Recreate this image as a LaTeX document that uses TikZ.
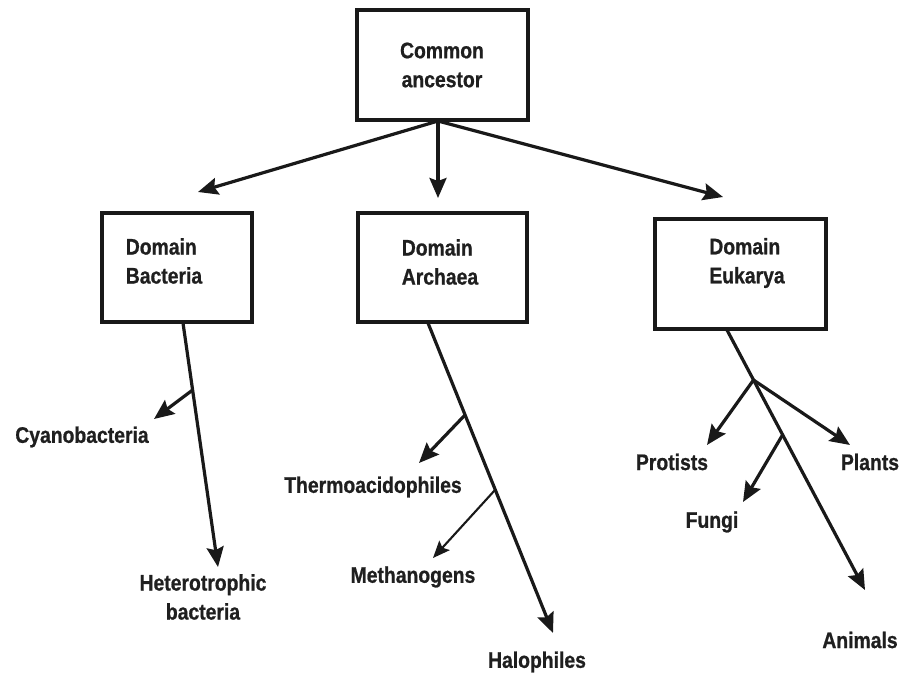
\documentclass[tikz,border=0pt]{standalone}
\usepackage{fontspec}
\setmainfont{Liberation Sans}[FakeStretch=0.86, BoldFeatures={FakeBold=0.8}]
\usetikzlibrary{arrows.meta}
\begin{document}
\begin{tikzpicture}[x=1pt,y=-1pt,
  box/.style={draw=black!90, line width=3.4pt, inner sep=0pt},
  txt/.style={font=\fontsize{22.5}{29}\selectfont\bfseries, text=black!88, inner sep=0pt, align=center},
  boxtxt/.style={txt, align=left},
  arr/.style={line width=3.2pt, draw=black!90, -{Stealth[length=20pt,width=17pt,inset=3pt]}},
  thinarr/.style={line width=2.1pt, draw=black!90, -{Stealth[length=17pt,width=14pt,inset=3pt]}},
  ln/.style={line width=3.2pt, draw=black!90}]
\useasboundingbox (0,0) rectangle (905,679);
\fill[white] (0,0) rectangle (905,679);

% boxes
\node[box, minimum width=171pt, minimum height=110pt] (top) at (442.5,65) {};
\node[txt] (toptxt) at (442,65) {Common\\ancestor};
\node[box, minimum width=150pt, minimum height=109pt] (bact) at (177,267.5) {};
\node[boxtxt] (bacttxt) at (164,261) {Domain\\Bacteria};
\node[box, minimum width=169pt, minimum height=109pt] (arch) at (442.5,267.5) {};
\node[boxtxt] (archtxt) at (440,262) {Domain\\Archaea};
\node[box, minimum width=171pt, minimum height=110pt] (euk) at (740.5,274) {};
\node[boxtxt] (euktxt) at (747,263) {Domain\\Eukarya};

% arrows from common ancestor
\coordinate (t0) at (438,121);
\coordinate (tb) at (198,192);
\coordinate (ta) at (438,198);
\coordinate (te) at (723,197);
\draw[arr] (t0) -- (tb);
\draw[arr] (t0) -- (ta);
\draw[arr] (t0) -- (te);

% labels
\node[txt] (cyano) at (82,437) {Cyanobacteria};
\node[txt] (hetero) at (203,597) {Heterotrophic\\bacteria};
\node[txt] (thermo) at (373,487) {Thermoacidophiles};
\node[txt] (metha) at (413,577) {Methanogens};
\node[txt] (halo) at (537,662) {Halophiles};
\node[txt] (prot) at (672,462) {Protists};
\node[txt] (plants) at (870,462) {Plants};
\node[txt] (fungi) at (712,522) {Fungi};
\node[txt] (animals) at (860,640) {Animals};

% bacteria branches
\coordinate (b0) at (183,323);
\coordinate (b1) at (192.6,390);
\coordinate (bt) at (218,567);
\coordinate (bc) at (154,419);
\draw[arr] (b0) -- (bt);
\draw[arr] (b1) -- (bc);

% archaea branches
\coordinate (a0) at (428,323);
\coordinate (a1) at (465,415);
\coordinate (a2) at (495,490);
\coordinate (at) at (553,633);
\coordinate (ath) at (419,463);
\coordinate (ame) at (433,558);
\draw[arr] (a0) -- (at);
\draw[arr] (a1) -- (ath);
\draw[thinarr] (a2) -- (ame);

% eukarya branches
\coordinate (e0) at (727,330);
\coordinate (e1) at (753.5,380);
\coordinate (e2) at (782.5,435);
\coordinate (ean) at (865,590);
\coordinate (epr) at (707,445);
\coordinate (epl) at (850,445);
\coordinate (efu) at (743,502);
\draw[arr] (e0) -- (ean);
\draw[arr] (e1) -- (epr);
\draw[arr] (e1) -- (epl);
\draw[arr] (e2) -- (efu);
\end{tikzpicture}
\end{document}
